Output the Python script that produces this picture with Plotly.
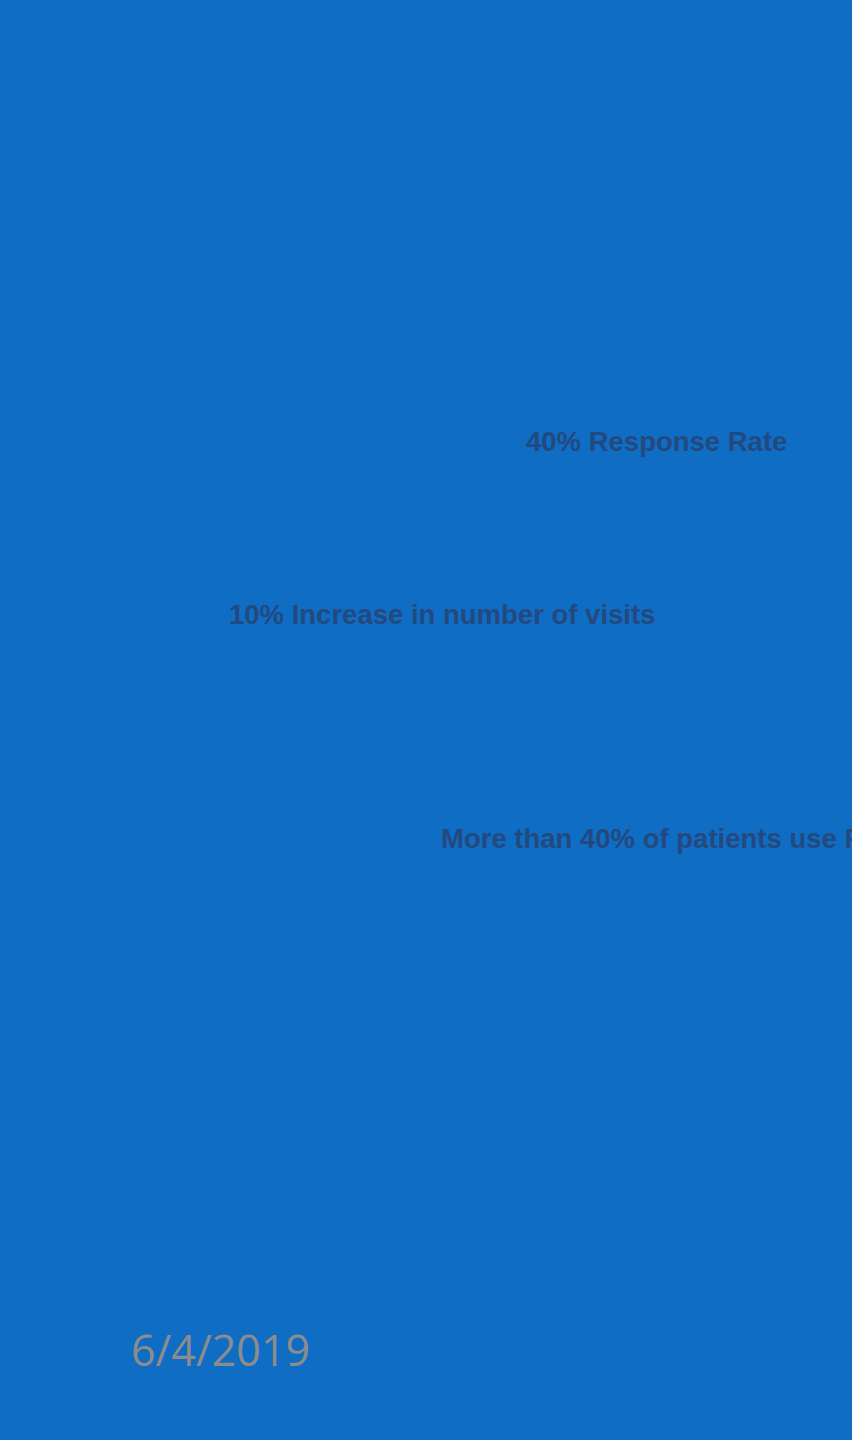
import plotly.graph_objects as go

# Content
statements = [
    "40% Response Rate",
    "10% Increase in number of visits",
    "More than 40% of patients use Patient Portal",
]
date_label = "6/4/2019"

# Layout (pixel positions on an 852x1440 page)
W, H = 852, 1440
stmt_left_px = [524, 227, 439]
stmt_mid_px = [441, 615, 838]
date_left_px, date_mid_px = 129, 1349

BG = "#0F6DC4"
TEXT = "#24497F"
DATE_COLOR = "#8C8C8C"

fig = go.Figure()

annotations = []
for txt, lx, my in zip(statements, stmt_left_px, stmt_mid_px):
    annotations.append(dict(
        text=f"<b>{txt}</b>", xref="paper", yref="paper",
        x=lx / W, y=1 - my / H, xanchor="left", yanchor="middle",
        showarrow=False, align="left",
        font=dict(family="Liberation Sans, Arial, sans-serif", size=27.5, color=TEXT),
    ))
annotations.append(dict(
    text=date_label, xref="paper", yref="paper",
    x=date_left_px / W, y=1 - date_mid_px / H, xanchor="left", yanchor="middle",
    showarrow=False,
    font=dict(family="Open Sans, sans-serif", size=43, color=DATE_COLOR),
))

fig.update_layout(
    width=W, height=H,
    margin=dict(l=0, r=0, t=0, b=0),
    paper_bgcolor=BG, plot_bgcolor=BG,
    xaxis=dict(visible=False, range=[0, 1]),
    yaxis=dict(visible=False, range=[0, 1]),
    showlegend=False,
    annotations=annotations,
)

fig.write_html(
    "out.html",
    config=dict(displayModeBar=False),
    post_script="document.body.style.margin='0';document.body.style.background='" + BG + "';",
)
